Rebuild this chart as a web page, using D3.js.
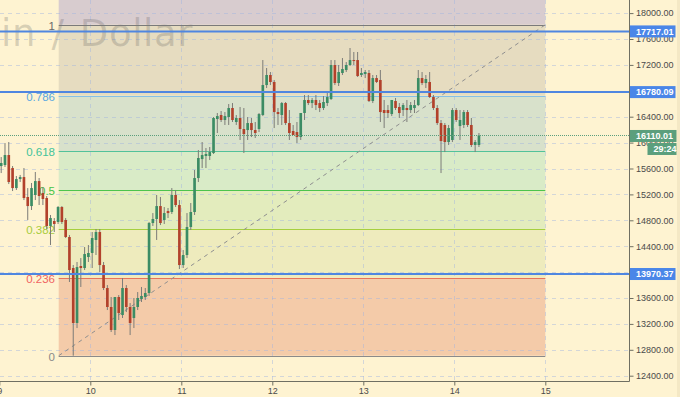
<!DOCTYPE html>
<html>
<head>
<meta charset="utf-8">
<title>BTCUSD 1h</title>
<script src="https://cdn.jsdelivr.net/npm/d3@7"></script>
<style>
  html, body { margin: 0; padding: 0; background: #fef3d1; }
  svg { display: block; font-family: "Liberation Sans", Arial, sans-serif; }
</style>
</head>
<body>
<svg class="chart" width="680" height="397"></svg>

<script>
// hourly candles starting 9 Dec 2017 00:00
var startTime = new Date(2017, 11, 9, 0, 0);

var open = [15638,15654,15808,15607,15298,15437,15468,15160,15020,15191,15406,15221,15144,14712,14789,14774,15005,14805,14542,14063,13214,14094,14063,14233,
  14295,14496,14619,14109,13754,13461,13106,13615,13337,13754,13461,13291,13461,13584,13615,13677,14758,14820,15020,14805,14943,14928,15191,15036,
  14109,14264,14696,14928,15453,15746,15793,15793,15839,16364,16426,16349,16395,16534,16318,16380,16210,16194,16302,16194,16210,16426,16889,17044,
  16936,16472,16426,16611,16302,16179,16163,16086,16457,16658,16611,16658,16611,16534,16611,16673,17198,16920,17075,17121,17198,17275,17275,17044,
  17059,17075,16642,16997,16967,16503,16503,16441,16642,16550,16503,16534,16503,16534,16580,16997,16920,16936,16704,16534,16302,16272,16009,16040,
  16503,16256,16272,16472,16272,15963,15963];
var high = [15777,15993,16009,15638,15484,15500,15607,15298,15376,15546,15453,15314,15175,14882,14835,15020,15020,14835,14573,14109,14156,14217,14387,14418,
  14619,14665,14665,14156,13800,13615,13615,13646,13909,13800,13522,13600,13692,13770,13754,14774,14912,15191,15160,15005,14990,15298,15268,15113,
  14341,14912,15067,15577,15885,16009,15916,15932,16395,16457,16488,16472,16596,16611,16426,16550,16534,16395,16380,16318,16457,17275,17152,17090,
  16967,16534,16627,16627,16503,16272,16318,16457,16735,16735,16689,16735,16658,16719,16766,17275,17275,17198,17306,17244,17461,17399,17399,17152,
  17121,17121,17044,17044,17121,16658,16580,16658,16689,16611,16611,16658,16627,16658,17121,17090,17044,17090,16735,16580,16349,16302,16272,16534,
  16534,16503,16503,16503,16380,16040,16148];
var low = [15530,15623,15360,15252,15268,15391,15113,14805,14959,15113,15036,15036,14665,14418,14619,14743,14743,14526,13847,12709,13136,13770,14032,14156,
  14063,14264,14001,13723,13414,13075,13028,13260,13291,13383,13028,13136,13414,13538,13569,13631,14712,14496,14727,14743,14835,14897,15005,14047,
  14063,14217,14650,14882,15391,15607,15607,15731,15824,16148,16318,16272,16272,16318,16272,16040,15839,16040,16086,16071,16163,16410,16843,16889,
  16225,16272,16272,16272,16040,16117,15993,16040,16349,16580,16534,16503,16472,16503,16565,16658,16889,16874,17044,17090,17183,17198,17013,17013,
  16997,16627,16611,16920,16318,16225,16380,16410,16503,16380,16410,16318,16457,16457,16565,16889,16843,16689,16503,16272,15530,15854,15963,16009,
  16318,16040,16225,16241,15932,15854,15932];
var close = [15685,15808,15391,15298,15437,15468,15144,15020,15298,15406,15175,15129,14712,14835,14743,15005,14774,14542,14032,13214,14078,14063,14279,14295,
  14526,14619,14109,13754,13461,13106,13615,13368,13754,13461,13214,13461,13600,13631,13677,14758,14820,15020,14758,14912,14912,15191,15036,14109,
  14264,14696,14928,15453,15762,15808,15824,15854,16380,16410,16349,16410,16534,16349,16380,16210,16132,16302,16194,16148,16441,16889,17044,16936,
  16472,16441,16611,16302,16148,16117,16086,16457,16658,16611,16658,16580,16534,16627,16704,17198,16920,17090,17136,17198,17275,17260,17028,17075,
  17090,16642,16997,16936,16472,16457,16457,16658,16534,16457,16580,16503,16580,16580,16997,16920,16982,16704,16534,16302,16024,16009,16225,16503,
  16349,16349,16472,16272,15963,16009,16110.01];

// fibonacci retracement drawn on the chart
var fibLevels = [0, 0.236, 0.382, 0.5, 0.618, 0.786, 1];
var fibLabels = ["0", "0.236", "0.382", "0.5", "0.618", "0.786", "1"];
var fibLineColors = ["#8a8a8a", "#e8735a", "#a6cf3e", "#4cc44c", "#52c29a", "#86c0e6", "#7a7a7a"];
var fibTextColors = ["#8a8a8a", "#f06262", "#a8cc3c", "#46c446", "#42c39a", "#5aa8e0", "#6a6a6a"];
// fills between levels, last one is above 1
var fibFills = ["#f4cba9", "#eeebbd", "#e3ecbd", "#d9ebc7", "#d8e1cb", "#e6dcc0", "#d8cccf"];
var fibLow = 12709, fibHigh = 17820;
var fibStart = new Date(2017, 11, 9, 15, 40), fibEnd = new Date(2017, 11, 15, 0, 0);

// horizontal lines and price tags
var hLines = [17717.01, 16780.09, 13970.37];
var lastPrice = 16110.01;
var countdown = "29:24";
var priceTicks = d3.range(12400, 18001, 400);

var svg = d3.select(".chart");
var W = 680, H = 397;
var plotR = 629.5, plotB = 381.5;

var x = d3.scaleTime()
  .domain([new Date(2017, 11, 9), new Date(2017, 11, 16)])
  .range([-0.7, 636.3]);
var y = d3.scaleLinear()
  .domain([12400, 18000])
  .range([375.7, 13.1]);

var times = open.map(function(d, i){ return d3.timeMinute.offset(startTime, i * 60 + 30); });
var barW = x(d3.timeHour.offset(startTime, 1)) - x(startTime);

svg.append("rect").attr("width", W).attr("height", H).attr("fill", "#fef3d1");
svg.append("rect").attr("x", 677).attr("width", 3).attr("height", H).attr("fill", "#f4e8c5");

var plot = svg.append("g");
plot.append("clipPath").attr("id", "clip")
  .append("rect").attr("width", plotR).attr("height", plotB);
var inner = plot.append("g").attr("clip-path", "url(#clip)");

// fib bands
var fx0 = x(fibStart), fx1 = x(fibEnd);
function fibPrice(l){ return fibLow + l * (fibHigh - fibLow); }
fibFills.forEach(function(c, i){
  var top = i < fibLevels.length - 1 ? y(fibPrice(fibLevels[i + 1])) : 0;
  var bot = y(fibPrice(fibLevels[i]));
  inner.append("rect")
    .attr("x", fx0).attr("y", top)
    .attr("width", fx1 - fx0).attr("height", bot - top)
    .attr("fill", c);
});

// grid
inner.selectAll(".hgrid").data(priceTicks).enter().append("line")
  .attr("x1", 0).attr("x2", plotR)
  .attr("y1", function(d){ return Math.round(y(d)) + 0.5; })
  .attr("y2", function(d){ return Math.round(y(d)) + 0.5; })
  .attr("stroke", "rgba(160,180,225,0.45)").attr("stroke-dasharray", "4,4");
var days = d3.timeDay.range(new Date(2017, 11, 9), new Date(2017, 11, 16));
inner.selectAll(".vgrid").data(days).enter().append("line")
  .attr("x1", function(d){ return Math.round(x(d)) + 0.5; })
  .attr("x2", function(d){ return Math.round(x(d)) + 0.5; })
  .attr("y1", 0).attr("y2", plotB)
  .attr("stroke", "rgba(160,180,225,0.45)").attr("stroke-dasharray", "4,4");

// watermark
inner.append("text")
  .attr("x", 193).attr("y", 46)
  .attr("text-anchor", "end")
  .attr("font-family", "DejaVu Sans, sans-serif")
  .attr("font-size", 37)
  .attr("letter-spacing", 0.6)
  .attr("word-spacing", 3)
  .attr("fill", "rgba(80,80,80,0.22)")
  .text("Bitcoin / Dollar");

// fib lines + labels
fibLevels.forEach(function(l, i){
  var yy = Math.round(y(fibPrice(l))) + 0.5;
  inner.append("line")
    .attr("x1", fx0).attr("x2", fx1).attr("y1", yy).attr("y2", yy)
    .attr("stroke", fibLineColors[i]).attr("stroke-width", 1.2);
  inner.append("text")
    .attr("x", 55).attr("y", yy + 4)
    .attr("text-anchor", "end")
    .attr("font-size", 11.5)
    .attr("fill", fibTextColors[i])
    .text(fibLabels[i]);
});
// trend line of the fib
inner.append("line")
  .attr("x1", fx0).attr("y1", y(fibLow))
  .attr("x2", fx1).attr("y2", y(fibHigh))
  .attr("stroke", "#8f8f8f").attr("stroke-dasharray", "4,4");

// candles
var candles = inner.selectAll(".candle").data(times).enter().append("g");
candles.append("line")
  .attr("x1", function(d){ return x(d); })
  .attr("x2", function(d){ return x(d); })
  .attr("y1", function(d, i){ return y(high[i]); })
  .attr("y2", function(d, i){ return y(low[i]); })
  .attr("stroke", "#7c7c78").attr("stroke-width", 1);
candles.append("rect")
  .attr("x", function(d){ return x(d) - barW * 0.35; })
  .attr("width", barW * 0.7)
  .attr("y", function(d, i){ return y(Math.max(open[i], close[i])); })
  .attr("height", function(d, i){ return Math.max(1, Math.abs(y(open[i]) - y(close[i]))); })
  .attr("fill", function(d, i){ return close[i] >= open[i] ? "#3b8c64" : "#b2412b"; });

// horizontal lines
hLines.forEach(function(p){
  inner.append("line")
    .attr("x1", 0).attr("x2", plotR)
    .attr("y1", y(p)).attr("y2", y(p))
    .attr("stroke", "#4f86e0").attr("stroke-width", 2);
});
inner.append("line")
  .attr("x1", 0).attr("x2", plotR)
  .attr("y1", Math.round(y(lastPrice)) + 0.5).attr("y2", Math.round(y(lastPrice)) + 0.5)
  .attr("stroke", "#5b9f7d").attr("stroke-dasharray", "1,1");

// axes
var yAxis = d3.axisRight(y).tickValues(priceTicks)
  .tickFormat(function(d){ return d.toFixed(2); }).tickSize(4);
var gy = svg.append("g").attr("transform", "translate(" + plotR + ",0)").call(yAxis);
var xAxis = d3.axisBottom(x)
  .tickValues(days.filter(function(d){ return x(d) < plotR; }))
  .tickFormat(d3.timeFormat("%-d")).tickSize(4);
var gx = svg.append("g").attr("transform", "translate(0," + plotB + ")").call(xAxis);
[gx, gy].forEach(function(g){
  g.select(".domain").remove();
  g.selectAll("line").attr("stroke", "#6f6f62");
  g.selectAll("text").attr("fill", "#4a4a4a").attr("font-size", 9)
    .attr("font-family", "Liberation Sans, Arial, sans-serif");
});
gy.selectAll("text").attr("x", 6.5);
gx.selectAll("text").attr("y", 6);

svg.append("line").attr("x1", plotR).attr("x2", plotR).attr("y1", 0).attr("y2", plotB)
  .attr("stroke", "#6f6f62");
svg.append("line").attr("x1", 0).attr("x2", plotR).attr("y1", plotB).attr("y2", plotB)
  .attr("stroke", "#6f6f62");

// price tags
function tag(p, fill, label, x0, w, yc){
  svg.append("rect").attr("x", x0).attr("y", yc - 6).attr("width", w).attr("height", 12)
    .attr("fill", fill);
  svg.append("text").attr("x", x0 + 6).attr("y", yc + 3.3)
    .attr("fill", "#fff").attr("font-size", 9).attr("font-weight", "bold")
    .text(label);
}
hLines.forEach(function(p){
  tag(p, "#4a86e8", p.toFixed(2), 630, 45.5, y(p));
});
tag(lastPrice, "#5b9f7d", lastPrice.toFixed(2), 630, 46.5, y(lastPrice) + 0.5);
tag(lastPrice, "#5b9f7d", countdown, 647.5, 29, y(lastPrice) + 13.5);
</script>
</body>
</html>
